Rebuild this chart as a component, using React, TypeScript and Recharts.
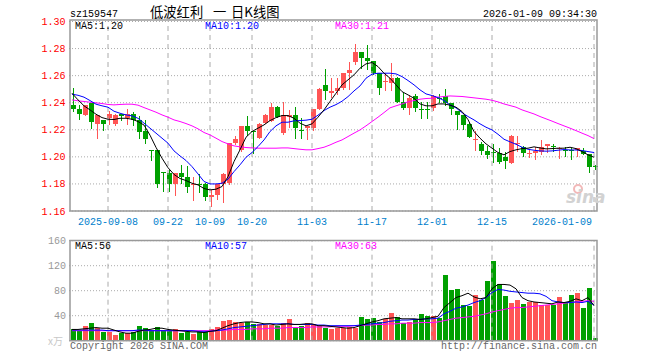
import React from "react";
import { ComposedChart, Bar, Line, XAxis, YAxis, CartesianGrid, ReferenceLine } from "recharts";

const UP = "#ff5555";
const DOWN = "#00a000";
const GRID = "#aaaaaa";
const MONO = "'Liberation Mono', 'DejaVu Sans Mono', monospace";
const CJK = "'Noto Sans CJK SC', sans-serif";

const dates = [
  "2025-08-29",
  "2025-09-01", "2025-09-02", "2025-09-03", "2025-09-04", "2025-09-05",
  "2025-09-08", "2025-09-09", "2025-09-10", "2025-09-11", "2025-09-12",
  "2025-09-15", "2025-09-16", "2025-09-17", "2025-09-18", "2025-09-19",
  "2025-09-22", "2025-09-23", "2025-09-24", "2025-09-25", "2025-09-26",
  "2025-09-29", "2025-09-30",
  "2025-10-09", "2025-10-10",
  "2025-10-13", "2025-10-14", "2025-10-15", "2025-10-16", "2025-10-17",
  "2025-10-20", "2025-10-21", "2025-10-22", "2025-10-23", "2025-10-24",
  "2025-10-27", "2025-10-28", "2025-10-29", "2025-10-30", "2025-10-31",
  "2025-11-03", "2025-11-04", "2025-11-05", "2025-11-06", "2025-11-07",
  "2025-11-10", "2025-11-11", "2025-11-12", "2025-11-13", "2025-11-14",
  "2025-11-17", "2025-11-18", "2025-11-19", "2025-11-20", "2025-11-21",
  "2025-11-24", "2025-11-25", "2025-11-26", "2025-11-27", "2025-11-28",
  "2025-12-01", "2025-12-02", "2025-12-03", "2025-12-04", "2025-12-05",
  "2025-12-08", "2025-12-09", "2025-12-10", "2025-12-11", "2025-12-12",
  "2025-12-15", "2025-12-16", "2025-12-17", "2025-12-18", "2025-12-19",
  "2025-12-22", "2025-12-23", "2025-12-24", "2025-12-25", "2025-12-26",
  "2025-12-29", "2025-12-30", "2025-12-31",
  "2026-01-05", "2026-01-06", "2026-01-07", "2026-01-08", "2026-01-09",
];

const opens = [
  1.238, 1.235, 1.231, 1.240, 1.224, 1.227, 1.229, 1.224, 1.232, 1.229,
  1.232, 1.227, 1.219, 1.205, 1.205, 1.189, 1.188, 1.180, 1.188, 1.185,
  1.179, 1.1797, 1.180, 1.170, 1.172, 1.180, 1.1805, 1.210, 1.205, 1.223,
  1.2194, 1.2137, 1.2248, 1.2268, 1.2371, 1.2174, 1.2293, 1.231, 1.2199, 1.2211,
  1.2216, 1.2352, 1.2532, 1.2475, 1.2483, 1.2507, 1.2623, 1.2704, 1.2778, 1.2734,
  1.2711, 1.2618, 1.2554, 1.2544, 1.2586, 1.2408, 1.2359, 1.245, 1.2354, 1.2354,
  1.2359, 1.2435, 1.245, 1.2396, 1.2339, 1.231, 1.2243, 1.2131, 1.2096, 1.2044,
  1.2039, 1.2032, 1.2002, 1.1958, 1.2103, 1.2071, 1.2025, 1.2027, 1.2039, 1.2081,
  1.2077, 1.2062, 1.2052, 1.2052, 1.2052, 1.2046, 1.2022, 1.193,
];
const highs = [
  1.251, 1.238, 1.238, 1.240, 1.231, 1.227, 1.234, 1.232, 1.232, 1.235,
  1.233, 1.230, 1.227, 1.205, 1.205, 1.189, 1.190, 1.188, 1.194, 1.193,
  1.185, 1.187, 1.1805, 1.1756, 1.180, 1.188, 1.210, 1.2155, 1.223, 1.230,
  1.2194, 1.2248, 1.2317, 1.240, 1.2376, 1.2408, 1.2347, 1.2367, 1.2285, 1.2229,
  1.2352, 1.2507, 1.2647, 1.2581, 1.2581, 1.2623, 1.2704, 1.2834, 1.2778, 1.2827,
  1.2711, 1.2618, 1.2618, 1.2692, 1.2593, 1.247, 1.2458, 1.2465, 1.2408, 1.2408,
  1.2458, 1.2465, 1.250, 1.2401, 1.2339, 1.231, 1.2253, 1.2194, 1.2113, 1.2081,
  1.2096, 1.2069, 1.2039, 1.216, 1.2155, 1.2081, 1.2051, 1.2076, 1.2125, 1.2096,
  1.2096, 1.2076, 1.2076, 1.2069, 1.2064, 1.2064, 1.2022, 1.194,
];
const lows = [
  1.233, 1.227, 1.230, 1.221, 1.213, 1.219, 1.224, 1.223, 1.227, 1.223,
  1.223, 1.213, 1.209, 1.197, 1.177, 1.174, 1.174, 1.171, 1.180, 1.173,
  1.167, 1.173, 1.167, 1.163, 1.168, 1.166, 1.179, 1.209, 1.204, 1.215,
  1.2027, 1.213, 1.2243, 1.2261, 1.2285, 1.2162, 1.2211, 1.213, 1.213, 1.2125,
  1.2187, 1.2347, 1.2416, 1.2433, 1.2458, 1.250, 1.2495, 1.2679, 1.2655, 1.2642,
  1.2605, 1.2458, 1.2482, 1.2482, 1.2401, 1.2347, 1.231, 1.2335, 1.2285, 1.2285,
  1.2342, 1.2396, 1.2371, 1.231, 1.2199, 1.2199, 1.2145, 1.2046, 1.2014, 1.1982,
  1.1953, 1.1948, 1.1914, 1.1948, 1.2039, 1.1997, 1.199, 1.1982, 1.2014, 1.2027,
  1.2039, 1.199, 1.2002, 1.1982, 1.1997, 1.2014, 1.1884, 1.1903,
];
const closes = [
  1.235, 1.232, 1.238, 1.226, 1.231, 1.224, 1.232, 1.231, 1.230, 1.232,
  1.227, 1.218, 1.213, 1.2048, 1.180, 1.1888, 1.180, 1.188, 1.185, 1.178,
  1.1803, 1.1795, 1.170, 1.172, 1.180, 1.187, 1.210, 1.213, 1.223, 1.2194,
  1.2192, 1.2243, 1.231, 1.2367, 1.2298, 1.231, 1.231, 1.2211, 1.2197, 1.2229,
  1.2352, 1.250, 1.2483, 1.2483, 1.2507, 1.2618, 1.2642, 1.2773, 1.2734, 1.2711,
  1.2618, 1.2507, 1.2561, 1.2581, 1.2408, 1.2359, 1.2433, 1.2359, 1.2352, 1.2352,
  1.245, 1.2433, 1.2401, 1.2352, 1.231, 1.2236, 1.215, 1.2133, 1.2046, 1.2014,
  1.2037, 1.1965, 1.1973, 1.2155, 1.2106, 1.2027, 1.2027, 1.2044, 1.2076, 1.2096,
  1.2075, 1.2064, 1.205, 1.205, 1.2064, 1.2022, 1.1923, 1.1928,
];

const ma5 = [
  1.2470, 1.2421, 1.2377, 1.2347, 1.2315, 1.2290, 1.2278, 1.2276, 1.2285, 1.2285,
  1.2278, 1.2261, 1.2235, 1.2160, 1.2070, 1.1990, 1.1920, 1.1870, 1.1840, 1.1825,
  1.1805, 1.1793, 1.1766, 1.1756, 1.1761, 1.1781, 1.1854, 1.1965, 1.2052, 1.2145,
  1.2187, 1.2212, 1.2236, 1.2268, 1.2290, 1.2305, 1.2305, 1.2285, 1.2249, 1.2229,
  1.2244, 1.2293, 1.2347, 1.2409, 1.2470, 1.2532, 1.2569, 1.2606, 1.2655, 1.2687,
  1.2697, 1.2667, 1.2618, 1.2581, 1.2532, 1.2482, 1.2458, 1.2433, 1.2391, 1.2377,
  1.2377, 1.2391, 1.2391, 1.2382, 1.2367, 1.2335, 1.2275, 1.2187, 1.2138, 1.2096,
  1.2064, 1.2032, 1.2015, 1.2039, 1.2052, 1.2061, 1.2064, 1.2074, 1.2066, 1.2059,
  1.2061, 1.2064, 1.2064, 1.2071, 1.2061, 1.2039, 1.2015, 1.1997,
];
const ma10 = [
  1.2463, 1.2455, 1.2441, 1.2416, 1.2389, 1.2377, 1.2367, 1.2337, 1.2322, 1.2310,
  1.2303, 1.2285, 1.2249, 1.2212, 1.2175, 1.2138, 1.2101, 1.2044, 1.2007, 1.1973,
  1.1928, 1.1874, 1.1818, 1.1800, 1.1800, 1.1805, 1.1835, 1.1891, 1.1941, 1.1997,
  1.2032, 1.2076, 1.2125, 1.2187, 1.2229, 1.2256, 1.2256, 1.2266, 1.2268, 1.2271,
  1.2278, 1.2308, 1.2342, 1.2367, 1.2386, 1.2411, 1.2445, 1.2487, 1.2524, 1.2581,
  1.2611, 1.2618, 1.2618, 1.2618, 1.2613, 1.2593, 1.2564, 1.2532, 1.2495, 1.2465,
  1.2453, 1.2438, 1.2416, 1.2384, 1.2362, 1.2327, 1.2298, 1.2273, 1.2244, 1.2219,
  1.2199, 1.2167, 1.2130, 1.2111, 1.2093, 1.2071, 1.2056, 1.2049, 1.2044, 1.2042,
  1.2044, 1.2049, 1.2054, 1.2051, 1.2051, 1.2047, 1.2039, 1.2032,
];
const ma30 = [
  1.2421, 1.2414, 1.2409, 1.2404, 1.2399, 1.2394, 1.2387, 1.2384, 1.2387, 1.2389,
  1.2389, 1.2382, 1.2364, 1.2347, 1.2330, 1.2310, 1.2293, 1.2273, 1.2261, 1.2246,
  1.2229, 1.2207, 1.2180, 1.2162, 1.2138, 1.2113, 1.2096, 1.2081, 1.2074, 1.2069,
  1.2066, 1.2064, 1.2064, 1.2064, 1.2064, 1.2066, 1.2066, 1.2061, 1.2056, 1.2052,
  1.2052, 1.2061, 1.2071, 1.2088, 1.2108, 1.2125, 1.2150, 1.2175, 1.2199, 1.2229,
  1.2261, 1.2293, 1.2327, 1.2362, 1.2377, 1.2391, 1.2406, 1.2416, 1.2426, 1.2431,
  1.2433, 1.2441, 1.2446, 1.2450, 1.2448, 1.2446, 1.2441, 1.2436, 1.2431, 1.2426,
  1.2418, 1.2406, 1.2391, 1.2379, 1.2367, 1.2347, 1.2332, 1.2317, 1.2298, 1.2281,
  1.2264, 1.2246, 1.2229, 1.2212, 1.2194, 1.2175, 1.2157, 1.2135,
];

// volume, in 万
const volumes = [
  18.1, 15.5, 23.5, 28.8, 19.7, 14.4, 14.4, 9.1, 11.7, 11.7,
  14.4, 23.5, 20.8, 17.1, 21.9, 17.1, 15.5, 18.7, 12.8, 14.4,
  11.2, 14.4, 13.3, 19.2, 22.4, 31.5, 33.1, 29.9, 28.8, 29.9,
  26.7, 26.7, 25.6, 24.5, 23.5, 27.7, 34.7, 19.7, 23.5, 27.7,
  26.7, 23.5, 19.7, 18.7, 20.8, 20.8, 21.3, 20.8, 38.4, 34.7,
  36.8, 30.4, 34.7, 44.3, 37.3, 27.7, 29.3, 34.7, 42.7, 39.5,
  40.0, 35.7, 105.1, 81.1, 82.7, 57.1, 55.5, 73.1, 65.1, 95.5,
  127.5, 90.7, 71.5, 60.8, 65.1, 58.7, 62.4, 62.4, 57.1, 57.1,
  57.1, 69.9, 59.7, 73.1, 76.3, 52.3, 84.3, 4.8,
];
const volMa5 = [
  18, 18, 19, 20, 21, 20, 20, 17, 14, 12,
  12, 15, 17, 18, 20, 20, 18, 17, 16, 15,
  14, 14, 13, 15, 16, 20, 24, 27, 29, 30,
  30, 29, 27, 27, 25, 26, 27, 26, 26, 27,
  27, 24, 24, 23, 22, 21, 20, 21, 24, 27,
  30, 32, 35, 36, 37, 35, 35, 35, 34, 35,
  37, 39, 53, 61, 69, 72, 76, 70, 67, 69,
  83, 90, 90, 89, 83, 69, 64, 62, 61, 60,
  59, 62, 61, 63, 67, 64, 69, 56,
];
const volMa10 = [
  17, 17, 17, 17, 17, 17, 16, 16, 16, 16,
  16, 17, 17, 16, 16, 16, 16, 16, 16, 16,
  16, 15, 15, 15, 16, 17, 19, 21, 22, 23,
  24, 25, 26, 27, 27, 27, 27, 26, 26, 26,
  26, 25, 25, 24, 24, 24, 24, 24, 25, 26,
  27, 28, 29, 31, 32, 33, 33, 34, 34, 35,
  35, 36, 43, 47, 52, 54, 57, 61, 64, 69,
  77, 82, 81, 79, 78, 77, 76, 76, 75, 71,
  64, 62, 61, 61, 62, 61, 63, 57,
];
const volMa30 = [
  16, 16, 16, 16, 16, 16, 16, 16, 16, 16,
  16, 16, 16, 16, 16, 16, 16, 16, 16, 16,
  16, 16, 16, 16, 17, 17, 17, 18, 18, 18,
  19, 19, 19, 20, 20, 20, 21, 21, 21, 21,
  22, 22, 22, 22, 23, 23, 23, 24, 24, 25,
  25, 26, 26, 27, 27, 28, 28, 28, 29, 29,
  29, 30, 32, 34, 36, 37, 38, 39, 41, 43,
  46, 48, 50, 52, 53, 53, 54, 55, 56, 57,
  58, 59, 60, 61, 62, 63, 64, 63,
];

const tickDates = ["2025-09-08", "2025-09-22", "2025-10-09", "2025-10-20", "2025-11-03", "2025-11-17", "2025-12-01", "2025-12-15", "2026-01-09"];
const tickLabels = ["2025-09-08", "09-22", "10-09", "10-20", "11-03", "11-17", "12-01", "12-15", "2026-01-09"];
const priceTicks = [1.16, 1.18, 1.2, 1.22, 1.24, 1.26, 1.28, 1.3];
const volTicks = [0, 40, 80, 120, 160];

const rows = dates.map((date, i) => ({
  date,
  open: opens[i],
  high: highs[i],
  low: lows[i],
  close: closes[i],
  ma5: ma5[i],
  ma10: ma10[i],
  ma30: ma30[i],
  vol: volumes[i],
  vma5: volMa5[i],
  vma10: volMa10[i],
  vma30: volMa30[i],
}));

function Candle(props: any) {
  const { x, y, width, height, payload } = props;
  if (!payload) return null;
  const top = Math.min(y, y + height);
  const span = Math.abs(height);
  const { open, close, high, low } = payload;
  const toY = (v: number) => top + ((high - v) / (high - low)) * span;
  const color = close >= open ? UP : DOWN;
  const cx = Math.round(x + width / 2);
  const bodyTop = Math.round(toY(Math.max(open, close)));
  const bodyH = Math.max(1, Math.round(toY(Math.min(open, close))) - bodyTop);
  return (
    <g shapeRendering="crispEdges">
      <rect x={cx} y={Math.round(top)} width={1} height={Math.max(1, Math.round(span))} fill={color} />
      <rect x={cx - 2} y={bodyTop} width={5} height={bodyH} fill={color} />
    </g>
  );
}

function VolBar(props: any) {
  const { x, y, width, height, payload } = props;
  if (!payload) return null;
  const cx = Math.round(x + width / 2);
  const top = Math.round(y);
  const bottom = Math.round(y + height);
  return (
    <rect
      x={cx - 2}
      y={top}
      width={5}
      height={Math.max(1, bottom - top)}
      fill={payload.close >= payload.open ? UP : DOWN}
      shapeRendering="crispEdges"
    />
  );
}

function PriceTick({ y, payload }: any) {
  return (
    <text x={65.5} y={y + 3.5} textAnchor="end" fontSize={10} fontFamily={MONO} fill="#ff0000">
      {payload.value.toFixed(2)}
    </text>
  );
}

function VolTick({ y, payload }: any) {
  if (payload.value === 0) return null;
  return (
    <text x={66} y={y + 3.5} textAnchor="end" fontSize={10} fontFamily={MONO} fill="#999999">
      {payload.value}
    </text>
  );
}

function DateTick({ x, payload }: any) {
  const idx = tickDates.indexOf(payload.value);
  const last = idx === tickDates.length - 1;
  return (
    <text x={last ? x - 2 : x} y={225} textAnchor={last ? "end" : "middle"} fontSize={10} fontFamily={MONO} fill="#0080cc">
      {tickLabels[idx]}
    </text>
  );
}

export default function App() {
  const n = rows.length - 1;
  return (
    <div style={{ position: "absolute", left: 0, top: 0, width: 660, height: 360, background: "#ffffff" }}>
      <div style={{ position: "absolute", left: 0, top: 0 }}>
        <ComposedChart width={660} height={360} data={rows} margin={{ top: 21.5, right: 63, bottom: 130, left: 0 }}>
          <CartesianGrid vertical={false} stroke={GRID} strokeDasharray="1 2" />
          <XAxis dataKey="date" ticks={tickDates} interval={0} tick={<DateTick />} tickLine={false} axisLine={false} height={19} />
          <YAxis domain={[1.16, 1.3]} ticks={priceTicks} tick={<PriceTick />} tickLine={false} axisLine={false} width={69} allowDataOverflow />
          {tickDates.map((d) => (
            <ReferenceLine key={d} x={d} stroke={GRID} strokeDasharray="5 4" />
          ))}
          <Bar dataKey={(d: any) => [d.low, d.high]} barSize={5} shape={<Candle />} isAnimationActive={false} />
          <Line dataKey="ma30" stroke="#ff00ff" strokeWidth={1} dot={false} isAnimationActive={false} />
          <Line dataKey="ma10" stroke="#0000ff" strokeWidth={1} dot={false} isAnimationActive={false} />
          <Line dataKey="ma5" stroke="#000000" strokeWidth={1} dot={false} isAnimationActive={false} />
        </ComposedChart>
      </div>
      <div style={{ position: "absolute", left: 0, top: 0 }}>
        <ComposedChart width={660} height={360} data={rows} margin={{ top: 240.7, right: 63, bottom: 19.3, left: 0 }}>
          <CartesianGrid vertical={false} stroke={GRID} strokeDasharray="1 2" />
          <XAxis dataKey="date" hide />
          <YAxis domain={[0, 160]} ticks={volTicks} tick={<VolTick />} tickLine={false} axisLine={false} width={69} allowDataOverflow />
          {tickDates.map((d) => (
            <ReferenceLine key={d} x={d} stroke={GRID} strokeDasharray="5 4" />
          ))}
          <Bar dataKey="vol" barSize={5} shape={<VolBar />} isAnimationActive={false} />
          <Line dataKey="vma30" stroke="#ff00ff" strokeWidth={1} dot={false} isAnimationActive={false} />
          <Line dataKey="vma10" stroke="#0000ff" strokeWidth={1} dot={false} isAnimationActive={false} />
          <Line dataKey="vma5" stroke="#000000" strokeWidth={1} dot={false} isAnimationActive={false} />
        </ComposedChart>
      </div>
      <svg width={660} height={360} style={{ position: "absolute", left: 0, top: 0, pointerEvents: "none" }}>
        <rect x={70} y={20} width={527} height={191} fill="none" stroke="#999999" strokeWidth={1.5} />
        <rect x={70} y={240.5} width={527} height={100.2} fill="none" stroke="#999999" strokeWidth={1.5} />
        <g fontFamily={MONO} fontSize={10}>
          <text x={70} y={16.5} fill="#000">sz159547</text>
          <text x={597} y={16.5} fill="#000" textAnchor="end">2026-01-09 09:34:30</text>
          <text x={75} y={29.3} fill="#000">MA5:{ma5[n].toFixed(2)}</text>
          <text x={205} y={29.3} fill="#0000ff">MA10:{ma10[n].toFixed(2)}</text>
          <text x={335} y={29.3} fill="#ff00ff">MA30:{ma30[n].toFixed(2)}</text>
          <text x={75} y={249.3} fill="#000">MA5:{volMa5[n]}</text>
          <text x={205} y={249.3} fill="#0000ff">MA10:{volMa10[n]}</text>
          <text x={335} y={249.3} fill="#ff00ff">MA30:{volMa30[n]}</text>
          <text x={70} y={348.5} fill="#666">Copyright 2026 SINA.COM</text>
          <text x={597} y={348.5} fill="#666" textAnchor="end">http://finance.sina.com.cn</text>
        </g>
        <text x={48} y={345} fontSize={10} fill="#c8c8c8" fontFamily={CJK}>x万</text>
        <text y={17} fontSize={13.3} fill="#000" fontFamily={CJK}>
          <tspan x={150}>低波红利</tspan>
          <tspan x={213}>一</tspan>
          <tspan x={231}>日K线图</tspan>
        </text>
        <circle cx={578} cy={189} r={4} fill="none" stroke="#f2b8b8" strokeWidth={2} />
        <text x={566} y={203} fontSize={17} fontStyle="italic" fontWeight="bold" fill="#d2d2d2" fontFamily="'DejaVu Sans', sans-serif">sina</text>
      </svg>
    </div>
  );
}
